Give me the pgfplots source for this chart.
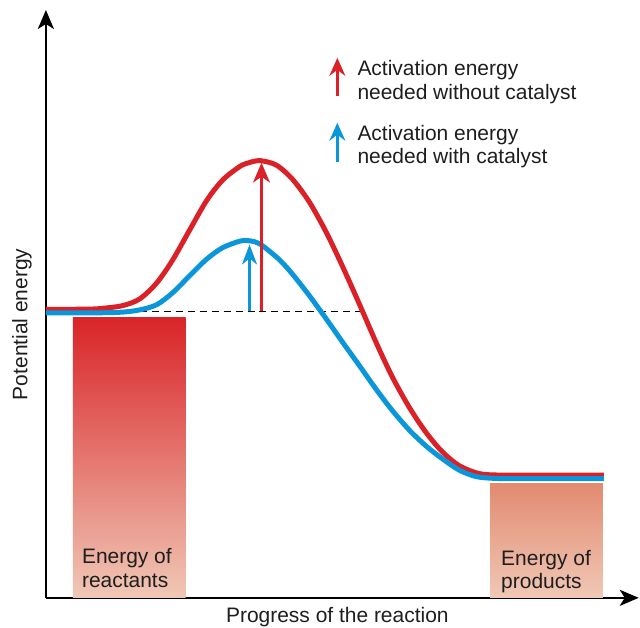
\documentclass[border=0pt]{standalone}
\usepackage{pgfplots}
\pgfplotsset{compat=1.18}
\usetikzlibrary{arrows.meta}
\usepackage{fontspec}
\setmainfont{Liberation Sans}
\definecolor{cred}{RGB}{218,33,40}
\definecolor{cblue}{RGB}{12,150,218}
\definecolor{barTop}{RGB}{217,36,40}
\definecolor{barBot}{RGB}{240,200,182}
\definecolor{prodTop}{RGB}{226,138,112}
\definecolor{txt}{RGB}{30,30,30}
\begin{document}
\begin{tikzpicture}[font=\fontsize{21}{24}\selectfont\color{txt}, every node/.style={inner sep=0pt}]
\begin{axis}[
  scale only axis, width=594pt, height=589pt,
  at={(46pt,30pt)}, anchor=south west,
  xmin=46, xmax=640, ymin=30, ymax=619,
  axis lines=left,
  axis line style={line width=2.5pt, black, -{Stealth[length=19pt,width=16pt,inset=5pt]}},
  xtick=\empty, ytick=\empty, clip=false,
]
% invisible frame for bounding box
\path (axis cs:0,0) rectangle (axis cs:640,629);
% bars
\addplot[draw=none, top color=barTop, bottom color=barBot] coordinates {(73,30) (73,311) (186,311) (186,30)} -- cycle;
\addplot[draw=none, top color=prodTop, bottom color=barBot] coordinates {(491,30) (491,145) (604,145) (604,30)} -- cycle;
% dashed baseline
\addplot[black, line width=1.2pt, dash pattern=on 7pt off 5pt] coordinates {(140,317) (363,317)};
% red curve
\addplot[cred, line width=5pt, smooth, tension=0.5] coordinates {
(46,319) (90,319.3) (105,320.3) (123,322.8) (140,329.5) (157,345.5) (173,368.5) (190,398.5) (207,428) (223,448.5) (240,462) (250,466.2) (261,468)
(277,463.5) (293,449.5) (310,426.5) (327,396) (343,362.5) (360,324.5) (377,285.5) (393,251.5) (410,221) (427,195.5) (443,176.5) (460,162.5) (480,154.5) (500,153) (520,153) (605,153)};
% blue curve
\addplot[cblue, line width=5pt, smooth, tension=0.5] coordinates {
(46,315.5) (100,315.6) (123,316.3) (140,318.5) (157,323.7) (173,335.7) (190,352.7) (207,369.3) (223,380.8) (240,387.3) (247,388)
(255,386.8) (263,382.8) (280,368.7) (293,354.4) (310,332.7) (327,309.3) (343,286.5) (360,262.8) (377,238.8) (393,217.8) (410,198.2) (427,182) (443,169.5) (460,158) (477,151.5) (495,149.7) (520,149.5) (605,149.5)};
% activation arrows
\addplot[cblue, line width=2.5pt, -{Stealth[length=20pt,width=15pt,inset=6pt]}] coordinates {(250,317) (250,384)};
\addplot[cred, line width=2.5pt, -{Stealth[length=20pt,width=17pt,inset=6pt]}] coordinates {(262,317) (262,466)};
% legend arrows
\addplot[cred, line width=2.5pt, -{Stealth[length=18pt,width=16pt,inset=6pt]}] coordinates {(338,533) (338,571)};
\addplot[cblue, line width=2.5pt, -{Stealth[length=18pt,width=16pt,inset=6pt]}] coordinates {(338,467) (338,506)};
% legend text
\node[anchor=base west] at (axis cs:358,553) {Activation energy};
\node[anchor=base west] at (axis cs:358,529) {needed without catalyst};
\node[anchor=base west] at (axis cs:358,488) {Activation energy};
\node[anchor=base west] at (axis cs:358,465) {needed with catalyst};
% bar texts
\node[anchor=base west] at (axis cs:82,64) {Energy of};
\node[anchor=base west] at (axis cs:82,40) {reactants};
\node[anchor=base west] at (axis cs:502,62) {Energy of};
\node[anchor=base west] at (axis cs:502,39) {products};
% axis labels
\node[anchor=base] at (axis cs:338,5) {Progress of the reaction};
\node[rotate=90] at (axis cs:22,304) {Potential energy};
\end{axis}
\end{tikzpicture}
\end{document}
